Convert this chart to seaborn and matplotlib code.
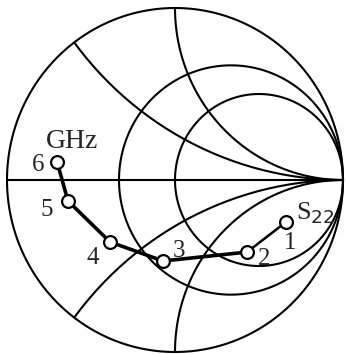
import numpy as np
import pandas as pd
import matplotlib
matplotlib.use('Agg')
import matplotlib.pyplot as plt
from matplotlib.patches import Circle
import seaborn as sns

freq_labels = ['1', '2', '3', '4', '5', '6']
gamma_re = [0.661, 0.429, -0.071, -0.387, -0.637, -0.702]
gamma_im = [-0.244, -0.419, -0.471, -0.360, -0.122, 0.105]

# Smith chart grid values
resistances = [0.5, 1.0]
reactances = [0.5, 1.0, -0.5, -1.0]

data = pd.DataFrame({'f': freq_labels, 're': gamma_re, 'im': gamma_im})

sns.set_style('white')
plt.rcParams['font.family'] = ['Liberation Serif', 'DejaVu Serif']

fig = plt.figure(figsize=(3.47, 3.54), dpi=100)
ax = fig.add_axes([0, 0, 1, 1])
ax.set_xlim(-175 / 168, 172 / 168)
ax.set_ylim(-174 / 172, 180 / 172)
ax.axis('off')

lw = 1.5
t = np.linspace(0, 2 * np.pi, 400)

# outer unit circle and real axis
ax.plot(np.cos(t), np.sin(t), color='black', lw=lw)
ax.plot([-1, 1], [0, 0], color='black', lw=lw)

# constant resistance circles
for r in resistances:
    c, rad = r / (r + 1), 1 / (r + 1)
    ax.plot(c + rad * np.cos(t), rad * np.sin(t), color='black', lw=lw)

# constant reactance arcs clipped to the unit circle
clip = Circle((0, 0), 1, transform=ax.transData, fill=False, lw=0)
ax.add_patch(clip)
for x in reactances:
    rad = 1 / abs(x)
    line, = ax.plot(1 + rad * np.cos(t), 1 / x + rad * np.sin(t), color='black', lw=lw)
    line.set_clip_path(clip)

# locus: thick from 6 down to 2, thinner from 2 to 1
sns.lineplot(data=data.iloc[1:], x='re', y='im', sort=False, color='black', lw=2.6, ax=ax)
sns.lineplot(data=data.iloc[:2], x='re', y='im', sort=False, color='black', lw=1.8, ax=ax)
sns.scatterplot(data=data, x='re', y='im', s=85, facecolor='white', edgecolor='black',
                linewidth=1.6, zorder=5, ax=ax)
ax.set_xlabel('')
ax.set_ylabel('')

# frequency labels (pixel offsets from each marker, y measured downward)
offsets = {'1': (4, 21), '2': (17, 7), '3': (16, -10), '4': (-17, 16), '5': (-21, 9), '6': (-19, 3)}
for f, re, im in zip(freq_labels, gamma_re, gamma_im):
    dx, dy = offsets[f]
    ax.annotate(f, (re, im), xytext=(dx, -dy), textcoords='offset pixels',
                ha='center', va='center', fontsize=18)

ax.text(-0.615, 0.225, 'GHz', ha='center', va='center', fontsize=20)
ax.text(0.72, -0.27, 'S$_{22}$', ha='left', va='bottom', fontsize=19)

fig.savefig('out.png', dpi=100)
